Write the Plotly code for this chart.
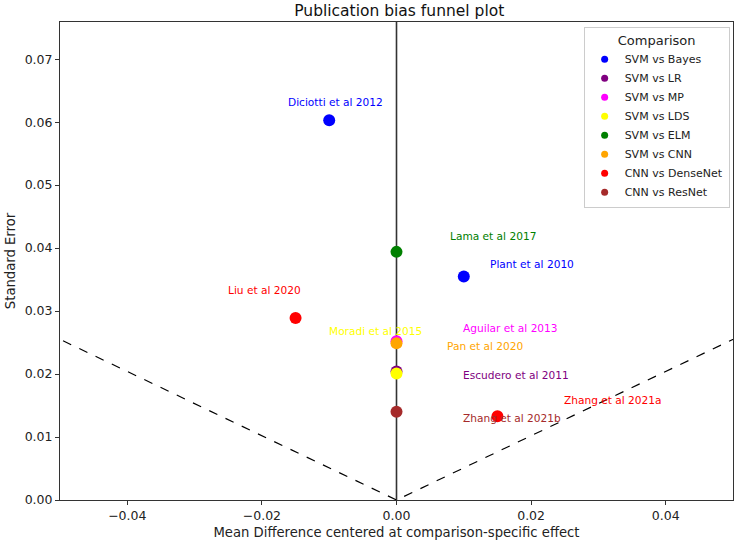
import plotly.graph_objects as go

# ---- data ----
comparisons = ["SVM vs Bayes", "SVM vs LR", "SVM vs MP", "SVM vs LDS",
               "SVM vs ELM", "SVM vs CNN", "CNN vs DenseNet", "CNN vs ResNet"]
colors = ["blue", "purple", "magenta", "yellow", "green", "orange", "red", "brown"]

studies = ["Diciotti et al 2012", "Plant et al 2010", "Escudero et al 2011",
           "Aguilar et al 2013", "Moradi et al 2015", "Lama et al 2017",
           "Pan et al 2020", "Liu et al 2020", "Zhang et al 2021a", "Zhang et al 2021b"]
study_comparison = ["SVM vs Bayes", "SVM vs Bayes", "SVM vs LR", "SVM vs MP",
                    "SVM vs LDS", "SVM vs ELM", "SVM vs CNN", "CNN vs DenseNet",
                    "CNN vs DenseNet", "CNN vs ResNet"]
centered_md = [-0.010, 0.010, 0.000, 0.000, 0.000, 0.000, 0.000, -0.015, 0.015, 0.000]
std_error = [0.0603, 0.0355, 0.0204, 0.0252, 0.0201, 0.0394, 0.0249, 0.0289, 0.0133, 0.0140]

# label anchor positions (data units)
label_x = [-0.0091, 0.0201, 0.0178, 0.0169, -0.0031, 0.0143, 0.0132, -0.0196, 0.0322, 0.0171]
label_y = [0.0632, 0.0375, 0.0198, 0.0273, 0.0268, 0.0419, 0.0244, 0.0333, 0.0159, 0.0131]

x_ticks = [-0.04, -0.02, 0.00, 0.02, 0.04]
y_ticks = [0.00, 0.01, 0.02, 0.03, 0.04, 0.05, 0.06, 0.07]
se_max = 0.077

color_of = dict(zip(comparisons, colors))

fig = go.Figure()

# funnel lines (95% pseudo-CI)
fig.add_trace(go.Scatter(x=[-1.96 * se_max, 0, 1.96 * se_max], y=[se_max, 0, se_max],
                         mode="lines", line=dict(color="black", width=1.2, dash="dash"),
                         showlegend=False, hoverinfo="skip"))

# points by comparison
for comp in comparisons:
    idx = [i for i, c in enumerate(study_comparison) if c == comp]
    fig.add_trace(go.Scatter(
        x=[centered_md[i] for i in idx], y=[std_error[i] for i in idx],
        mode="markers", marker=dict(color=color_of[comp], size=12),
        name=comp, showlegend=False, cliponaxis=False))

# legend entries with small markers
for comp in comparisons:
    fig.add_trace(go.Scatter(x=[None], y=[None], mode="markers",
                             marker=dict(color=color_of[comp], size=7), name=comp))

# study labels
for s, c, lx, ly in zip(studies, study_comparison, label_x, label_y):
    fig.add_annotation(x=lx, y=ly, text=s, showarrow=False, xanchor="center", yanchor="middle",
                       font=dict(color=color_of[c], size=10.6, family="DejaVu Sans"))

fig.add_shape(type="line", xref="x", yref="paper", x0=0, x1=0, y0=0, y1=1,
              line=dict(color="#333333", width=1.6), layer="below")

axis_common = dict(showgrid=False, zeroline=False, showline=True, linecolor="#333333",
                   linewidth=1, mirror=True, ticks="outside", ticklen=4, tickcolor="#333333",
                   tickfont=dict(size=12.5, color="#222222"), tickformat=".2f")

fig.update_layout(
    width=738, height=546,
    margin=dict(l=60, r=5, t=22, b=46),
    paper_bgcolor="white", plot_bgcolor="white",
    font=dict(family="DejaVu Sans", color="#222222"),
    title=dict(text="Publication bias funnel plot", x=0.541, xanchor="center",
               y=0.981, yanchor="middle", font=dict(size=15.5, color="#111111")),
    xaxis=dict(range=[-0.05, 0.05], tickvals=x_ticks,
               title=dict(text="Mean Difference centered at comparison-specific effect",
                          font=dict(size=13.2), standoff=5), **axis_common),
    yaxis=dict(range=[0, 0.0759], tickvals=y_ticks,
               title=dict(text="Standard Error", font=dict(size=13.2), standoff=6),
               **axis_common),
    legend=dict(title=dict(text="Comparison", font=dict(size=13), side="top center"),
                x=0.995, y=0.99, xanchor="right", yanchor="top",
                bgcolor="white", bordercolor="#cccccc", borderwidth=1,
                font=dict(size=11), tracegroupgap=0, itemwidth=30),
)

fig.write_html("out.html")
